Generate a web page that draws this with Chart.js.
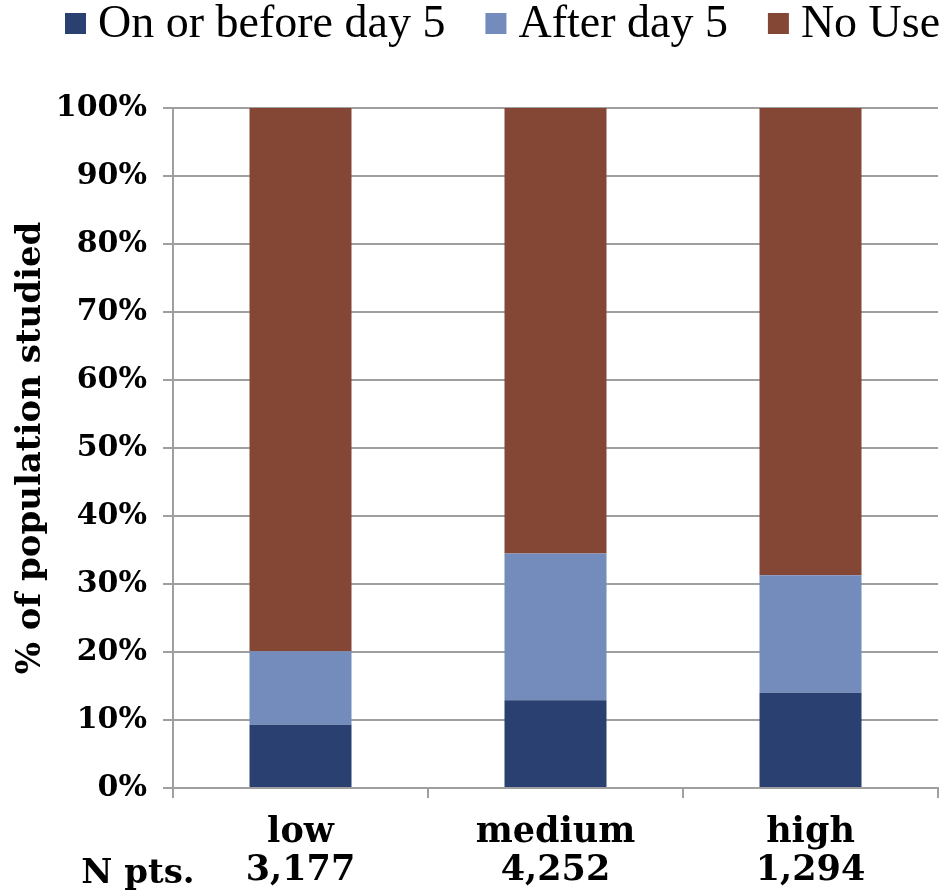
<!DOCTYPE html>
<html>
<head>
<meta charset="utf-8">
<script src="https://cdn.jsdelivr.net/npm/chart.js@4/dist/chart.umd.min.js"></script>
<style>
  html, body { margin: 0; padding: 0; background: #ffffff; }
  #wrap { width: 940px; height: 895px; position: relative; }
</style>
</head>
<body>
<div id="wrap"><canvas id="chart" width="940" height="895"></canvas></div>
<script>
// Risk groups and number of patients in each
const categories = ['low', 'medium', 'high'];
const patientCounts = ['3,177', '4,252', '1,294'];
const countRowLabel = 'N pts.';

// Share of each group (%) by timing of use
const seriesNames = ['On or before day 5', 'After day 5', 'No Use'];
const earlyUse = [9.3, 12.9, 14.0];
const lateUse = [10.8, 21.6, 17.3];
const noUse = [79.9, 65.5, 68.7];

const seriesColors = ['#294070', '#748CBC', '#844736'];
const yTickValues = [0, 10, 20, 30, 40, 50, 60, 70, 80, 90, 100];

const gridColor = '#9f9f9f';
const boldSerif = "'DejaVu Serif', 'Liberation Serif', serif";
const plainSerif = "'Liberation Serif', 'DejaVu Serif', serif";

// Legend row drawn across the top, swatch followed by its label
const topLegend = {
  id: 'topLegend',
  afterDraw(chart) {
    const ctx = chart.ctx;
    ctx.save();
    ctx.font = '46px ' + plainSerif;
    ctx.textBaseline = 'alphabetic';
    ctx.textAlign = 'left';
    let x = 65;
    chart.data.datasets.forEach(ds => {
      ctx.fillStyle = ds.backgroundColor;
      ctx.fillRect(x, 13, 21, 21);
      ctx.fillStyle = '#000000';
      ctx.fillText(ds.label, x + 33, 37);
      x += 33 + ctx.measureText(ds.label).width + 40;
    });
    ctx.restore();
  }
};

// Caption for the patient-count row under the category names
const countCaption = {
  id: 'countCaption',
  afterDraw(chart) {
    const ctx = chart.ctx;
    ctx.save();
    ctx.font = 'bold 34px ' + boldSerif;
    ctx.fillStyle = '#000000';
    ctx.textAlign = 'center';
    ctx.textBaseline = 'alphabetic';
    ctx.fillText(countRowLabel, 138, 883);
    ctx.restore();
  }
};

const values = [earlyUse, lateUse, noUse];

new Chart(document.getElementById('chart'), {
  type: 'bar',
  data: {
    labels: categories.map((c, i) => [c, patientCounts[i]]),
    datasets: seriesNames.map((name, i) => ({
      label: name,
      data: values[i],
      backgroundColor: seriesColors[i],
      borderWidth: 0,
      barPercentage: 0.4,
      categoryPercentage: 1.0
    }))
  },
  options: {
    responsive: false,
    animation: false,
    devicePixelRatio: 1,
    layout: { padding: { top: 108, right: 2, bottom: 0, left: 0 } },
    plugins: {
      legend: { display: false },
      tooltip: { enabled: false }
    },
    scales: {
      x: {
        stacked: true,
        offset: true,
        grid: {
          offset: true,
          drawOnChartArea: false,
          drawTicks: true,
          tickLength: 10,
          color: gridColor,
          lineWidth: 2
        },
        border: { display: true, color: gridColor, width: 2 },
        ticks: {
          color: '#000000',
          padding: 16,
          maxRotation: 0,
          autoSkip: false,
          font: { family: boldSerif, size: 35, weight: 'bold', lineHeight: 1.086 }
        },
        afterFit(scale) { scale.height = 107; }
      },
      y: {
        stacked: true,
        min: 0,
        max: 100,
        afterBuildTicks(scale) {
          scale.ticks = yTickValues.map(v => ({ value: v }));
        },
        grid: {
          drawTicks: true,
          tickLength: 10,
          color: gridColor,
          lineWidth: 2
        },
        border: { display: true, color: gridColor, width: 2 },
        ticks: {
          color: '#000000',
          padding: 16,
          font: { family: boldSerif, size: 30, weight: 'bold' },
          callback: v => v + '%'
        },
        title: {
          display: true,
          text: '% of population studied',
          color: '#000000',
          padding: { top: 11, bottom: 0 },
          font: { family: boldSerif, size: 34, weight: 'bold', lineHeight: 1.2 }
        },
        afterFit(scale) { scale.width = 173; }
      }
    }
  },
  plugins: [topLegend, countCaption]
});
</script>
</body>
</html>
